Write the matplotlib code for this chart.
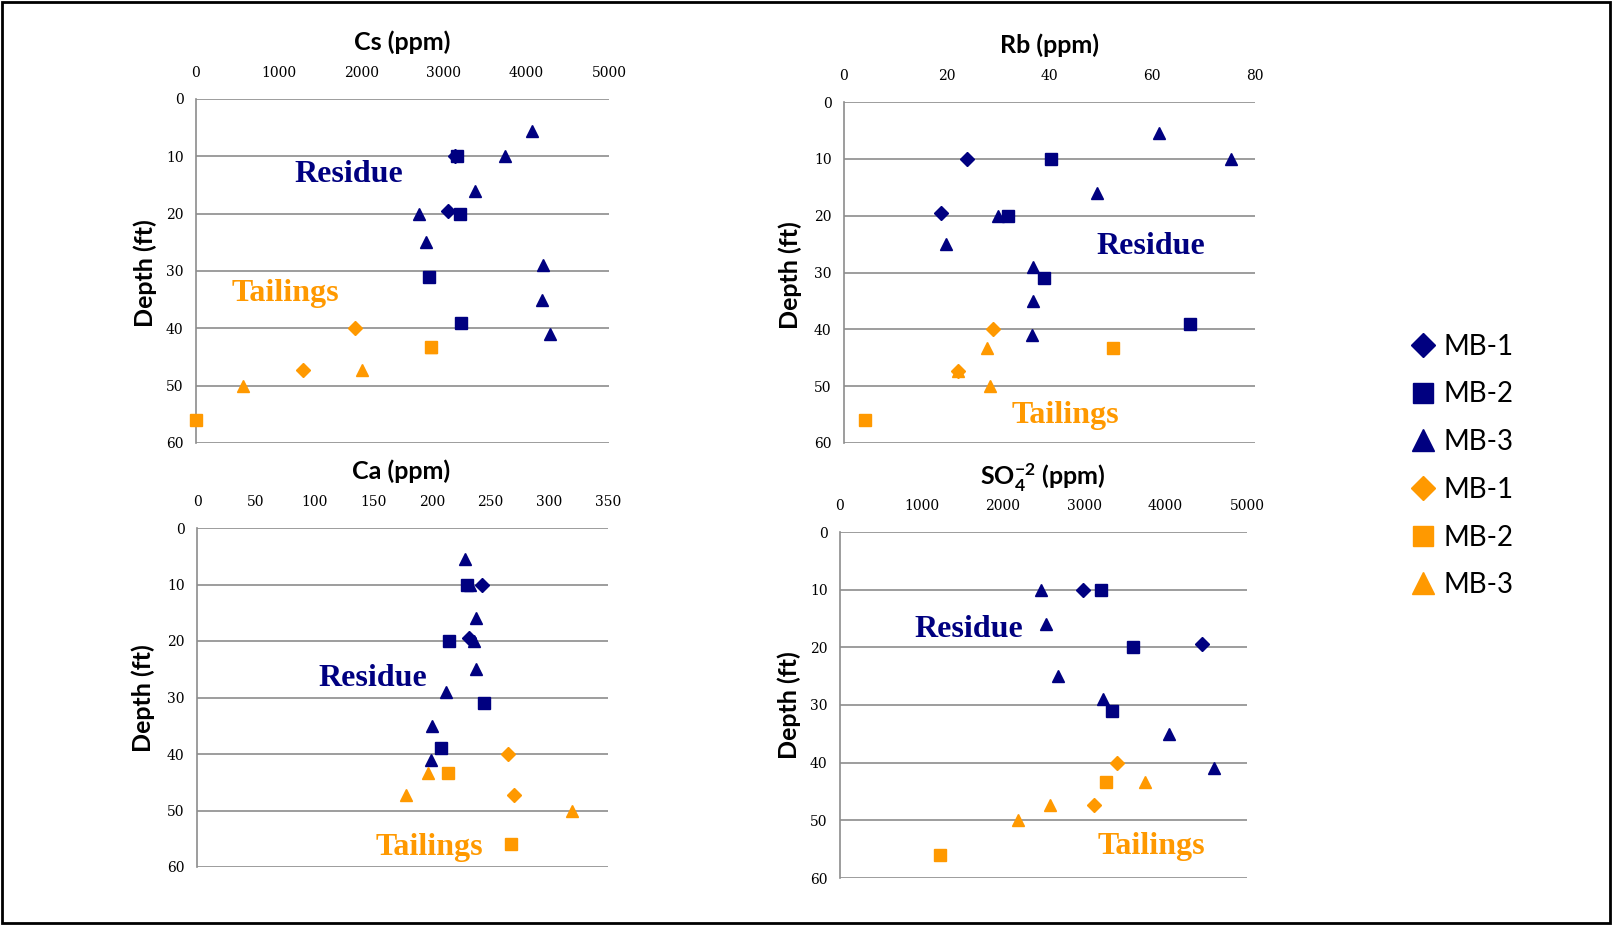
import numpy as np
import matplotlib
matplotlib.use("Agg")
import matplotlib.pyplot as plt
from matplotlib.patches import Rectangle

plt.rcParams['mathtext.default'] = 'regular'

nan = np.nan
# ---- depths (ft) for each series ----
res_mb1_depth = [10, 19.5]
res_mb2_depth = [10, 20, 31, 39]
res_mb3_depth = [5.5, 10, 16, 20, 25, 29, 35, 41]
tail_mb1_depth = [40, 47.3]
tail_mb2_depth = [43.3, 56]
tail_mb3_depth = [43.3, 47.3, 50]

# ---- Cs (ppm) ----
cs_res_mb1 = [3140, 3050]
cs_res_mb2 = [3160, 3195, 2820, 3205]
cs_res_mb3 = [4070, 3735, 3380, 2700, 2785, 4195, 4190, 4285]
cs_tail_mb1 = [1930, 1300]
cs_tail_mb2 = [2850, 5]
cs_tail_mb3 = [2840, 2015, 565]

# ---- Rb (ppm) ----
rb_res_mb1 = [23.9, 18.8]
rb_res_mb2 = [40.2, 32.0, 38.9, 67.4]
rb_res_mb3 = [61.4, 75.4, 49.2, 29.9, 19.9, 36.7, 36.7, 36.6]
rb_tail_mb1 = [29.0, 22.1]
rb_tail_mb2 = [52.4, 4.1]
rb_tail_mb3 = [27.9, 22.1, 28.5]

# ---- Ca (ppm) ----
ca_res_mb1 = [243, 231.4]
ca_res_mb2 = [229.9, 214.6, 244.1, 207.8]
ca_res_mb3 = [228.5, 232.8, 237.9, 235.6, 237.9, 212.3, 200.4, 199]
ca_tail_mb1 = [264.6, 269.7]
ca_tail_mb2 = [213.5, 267.4]
ca_tail_mb3 = [196.4, 177.7, 319.6]

# ---- SO4 (ppm) ----
so4_res_mb1 = [2990, 4450]
so4_res_mb2 = [3212, 3605, 3343, nan]
so4_res_mb3 = [nan, 2469, 2527, nan, 2683, 3236, 4044, 4594]
so4_tail_mb1 = [3404, 3126]
so4_tail_mb2 = [3269, 1230]
so4_tail_mb3 = [3749, 2576, 2182]

series_labels = ["MB-1", "MB-2", "MB-3", "MB-1", "MB-2", "MB-3"]
depth_ticks = [0, 10, 20, 30, 40, 50, 60]
cs_ticks = [0, 1000, 2000, 3000, 4000, 5000]
rb_ticks = [0, 20, 40, 60, 80]
ca_ticks = [0, 50, 100, 150, 200, 250, 300, 350]
so4_ticks = [0, 1000, 2000, 3000, 4000, 5000]

NAVY = '#000080'
ORANGE = '#FF9900'
GRID = '#8c8c8c'
W, H = 1613, 925

fig = plt.figure(figsize=(W / 100, H / 100), dpi=100)

def rect(l, r, t, b):
    return [l / W, 1 - b / H, (r - l) / W, (b - t) / H]

panels = [
    dict(rect=rect(196, 609, 99, 443), ticks=cs_ticks,
         data=[cs_res_mb1, cs_res_mb2, cs_res_mb3, cs_tail_mb1, cs_tail_mb2, cs_tail_mb3],
         title="Cs (ppm)", tpos=(402, 42), ypos=(145, 273),
         res=(1846, 13.1), tail=(1078, 33.9)),
    dict(rect=rect(844, 1255, 102, 443), ticks=rb_ticks,
         data=[rb_res_mb1, rb_res_mb2, rb_res_mb3, rb_tail_mb1, rb_tail_mb2, rb_tail_mb3],
         title="Rb (ppm)", tpos=(1049, 45), ypos=(790, 275),
         res=(59.8, 25.5), tail=(43.0, 55.1)),
    dict(rect=rect(197, 608, 528, 867), ticks=ca_ticks,
         data=[ca_res_mb1, ca_res_mb2, ca_res_mb3, ca_tail_mb1, ca_tail_mb2, ca_tail_mb3],
         title="Ca (ppm)", tpos=(401, 471), ypos=(143, 698),
         res=(149.6, 26.7), tail=(198.1, 56.5)),
    dict(rect=rect(840, 1247, 532, 878), ticks=so4_ticks,
         data=[so4_res_mb1, so4_res_mb2, so4_res_mb3, so4_tail_mb1, so4_tail_mb2, so4_tail_mb3],
         title="SO$_4^{-2}$ (ppm)", tpos=(1043, 478), ypos=(789, 705),
         res=(1587, 16.9), tail=(3831, 54.5)),
]

depths = [res_mb1_depth, res_mb2_depth, res_mb3_depth,
          tail_mb1_depth, tail_mb2_depth, tail_mb3_depth]
colors = [NAVY, NAVY, NAVY, ORANGE, ORANGE, ORANGE]
markers = ['D', 's', '^', 'D', 's', '^']
msizes = [6.8, 8.2, 9.2, 6.8, 8.2, 9.2]

handles = None
for p in panels:
    ax = fig.add_axes(p['rect'])
    ax.set_xlim(p['ticks'][0], p['ticks'][-1])
    ax.set_ylim(60, 0)
    ax.xaxis.tick_top()
    ax.set_xticks(p['ticks'])
    ax.set_yticks(depth_ticks)
    ax.tick_params(length=0, labelsize=10)
    ax.tick_params(axis='x', pad=14)
    ax.tick_params(axis='y', pad=9)
    for lbl in ax.get_xticklabels() + ax.get_yticklabels():
        lbl.set_fontfamily('DejaVu Serif')
    for s in ['top', 'right', 'bottom']:
        ax.spines[s].set_visible(False)
    ax.spines['left'].set_color(GRID)
    ax.spines['left'].set_linewidth(1.2)
    ax.yaxis.grid(True, color=GRID, lw=1.2)
    ax.set_axisbelow(True)
    hs = []
    for vals, d, c, m, ms, lab in zip(p['data'], depths, colors, markers, msizes, series_labels):
        h, = ax.plot(vals, d, ls='none', marker=m, ms=ms, color=c, mec=c,
                     clip_on=False, label=lab, zorder=3)
        hs.append(h)
    if handles is None:
        handles = hs
    ax.text(*p['res'], 'Residue', fontfamily='Liberation Serif', fontweight='bold',
            fontsize=23, color=NAVY, ha='center', va='center')
    ax.text(*p['tail'], 'Tailings', fontfamily='Liberation Serif', fontweight='bold',
            fontsize=23, color=ORANGE, ha='center', va='center')
    fig.text(p['tpos'][0] / W, 1 - p['tpos'][1] / H, p['title'], fontfamily='Lato',
             fontweight='bold', fontsize=18, ha='center', va='center')
    fig.text(p['ypos'][0] / W, 1 - p['ypos'][1] / H, 'Depth (ft)', fontfamily='Lato',
             fontweight='bold', fontsize=18, ha='center', va='center', rotation=90)

fig.legend(handles=handles, labels=series_labels, loc='center left',
           bbox_to_anchor=(1395 / W, 1 - 466 / H), frameon=False,
           markerscale=1.75, handlelength=1.0, handletextpad=0.25,
           labelspacing=0.78, borderpad=0, prop={'family': 'Lato', 'size': 20})

fig.add_artist(Rectangle((0.001, 0.002), 0.997, 0.996, transform=fig.transFigure,
                         fill=False, edgecolor='black', lw=2))

fig.savefig('out.png', dpi=100)
